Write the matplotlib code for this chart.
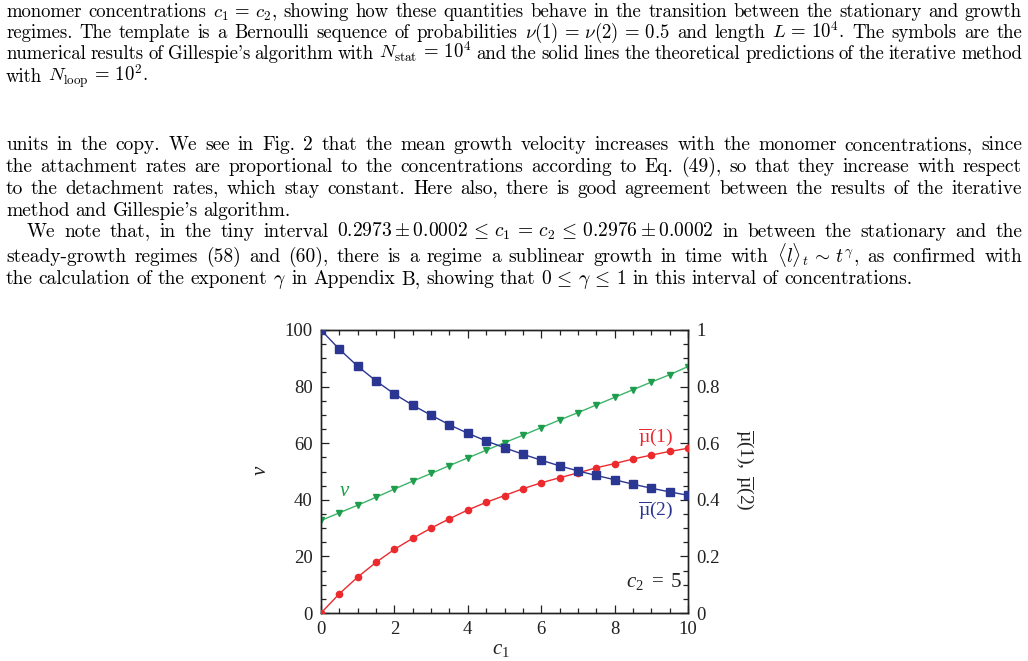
import re
import matplotlib as mpl
mpl.use('Agg')
import matplotlib.pyplot as plt
import matplotlib.ticker as ticker

######################
## data
######################

c1 = [0, 0.5, 1, 1.5, 2, 2.5, 3, 3.5, 4, 4.5, 5, 5.5, 6, 6.5, 7, 7.5, 8, 8.5, 9, 9.5, 10]
velocity = [32.7, 35.4, 38.1, 40.9, 43.8, 46.6, 49.3, 52.1, 54.8, 57.5, 60.2,
            62.8, 65.5, 68.2, 70.8, 73.5, 76.2, 78.9, 81.6, 84.2, 87.1]
mu1 = [0.0, 0.068, 0.127, 0.179, 0.225, 0.264, 0.300, 0.333, 0.364, 0.391, 0.415,
       0.439, 0.460, 0.478, 0.495, 0.513, 0.528, 0.544, 0.558, 0.571, 0.582]
mu2 = [1.0, 0.932, 0.872, 0.820, 0.774, 0.734, 0.699, 0.665, 0.635, 0.608, 0.584,
       0.561, 0.540, 0.520, 0.502, 0.486, 0.471, 0.455, 0.441, 0.428, 0.416]

caption_lines = [
    r"monomer concentrations $c_1\,=\,c_2$, showing how these quantities behave in the transition between the stationary and growth",
    r"regimes.  The template is a Bernoulli sequence of probabilities $\nu(1)\,=\,\nu(2)\,=\,0.5$ and length $L\,=\,10^4$.  The symbols are the",
    r"numerical results of Gillespie's algorithm with $N_{\mathrm{stat}}\,=\,10^4$ and the solid lines the theoretical predictions of the iterative method",
    r"with $N_{\mathrm{loop}}\,=\,10^2$.",
]
body_lines = [
    r"units in the copy. We see in Fig. 2 that the mean growth velocity increases with the monomer concentrations, since",
    r"the attachment rates are proportional to the concentrations according to Eq. (49), so that they increase with respect",
    r"to the detachment rates, which stay constant. Here also, there is good agreement between the results of the iterative",
    r"method and Gillespie's algorithm.",
    r"We note that, in the tiny interval $0.2973\pm0.0002\,\leq\,c_1\,=\,c_2\,\leq\,0.2976\pm0.0002$ in between the stationary and the",
    r"steady-growth regimes (58) and (60), there is a regime a sublinear growth in time with $\langle l\rangle_t\,\sim\,t^\gamma$, as confirmed with",
    r"the calculation of the exponent $\gamma$ in Appendix B, showing that $0\,\leq\,\gamma\,\leq\,1$ in this interval of concentrations.",
]

######################
## setup
######################

plt.rcParams['mathtext.fontset'] = 'custom'
plt.rcParams['mathtext.rm'] = 'Liberation Serif'
plt.rcParams['mathtext.it'] = 'Liberation Serif:italic'
plt.rcParams['font.family'] = 'Liberation Serif'

W, H = 1028, 661
fig = plt.figure(figsize=(W / 100, H / 100), dpi=100)

BLUE = '#2b3592'
RED = '#ec2a2e'
GREEN = '#1e9e4c'
GREEN_LINE = '#3cb46a'
INK = '#222222'

######################
## page text (justified)
######################

def tokens(s):
    return re.findall(r'(?:\$[^$]*\$|[^\s$])+', s)

def put_line(s, base, x0=6, x1=1022, size=14.0, justify=True):
    toks = tokens(s)
    arts = [fig.text(0, 0, t, fontsize=size, family='cmr10', math_fontfamily='cm',
                     va='baseline', ha='left', color='black') for t in toks]
    r = fig.canvas.get_renderer()
    ws = [a.get_window_extent(r).width for a in arts]
    if justify and len(toks) > 1:
        gap = (x1 - x0 - sum(ws)) / (len(toks) - 1)
    else:
        gap = size * 0.42
    x = x0
    for a, w in zip(arts, ws):
        a.set_position((x / W, 1 - base / H))
        x += w + gap

cap_base = [17, 38, 59, 82]
for i, (s, b) in enumerate(zip(caption_lines, cap_base)):
    put_line(s, b, size=13.5, justify=(i < len(caption_lines) - 1))

body_base = [150, 172, 194, 216, 237, 262, 284]
for i, (s, b) in enumerate(zip(body_lines, body_base)):
    x0 = 27 if i == 4 else 6
    put_line(s, b, x0=x0, size=14.0, justify=(i not in (3, 6)))

######################
## chart
######################

ax = fig.add_axes([321 / W, (H - 613) / H, 367 / W, 283 / H])
ax2 = ax.twinx()

ax.plot(c1, velocity, '-', color=GREEN_LINE, lw=1.0, marker='v', ms=5,
        mfc=GREEN, mec=GREEN, zorder=3)
ax2.plot(c1, mu1, '-', color=RED, lw=1.0, marker='o', ms=4.5,
         mfc=RED, mec=RED, zorder=3)
ax2.plot(c1, mu2, '-', color=BLUE, lw=1.0, marker='s', ms=5.5,
         mfc=BLUE, mec=BLUE, zorder=4)

ax.set_xlim(0, 10)
ax.set_ylim(0, 100)
ax2.set_ylim(0, 1)

ax.xaxis.set_major_locator(ticker.MultipleLocator(2))
ax.xaxis.set_minor_locator(ticker.MultipleLocator(0.5))
ax.yaxis.set_major_locator(ticker.MultipleLocator(20))
ax.yaxis.set_minor_locator(ticker.MultipleLocator(5))
ax2.yaxis.set_major_locator(ticker.MultipleLocator(0.2))
ax2.yaxis.set_minor_locator(ticker.MultipleLocator(0.05))
ax2.yaxis.set_major_formatter(ticker.FuncFormatter(lambda v, p: '%g' % round(v, 2)))

ax.tick_params(which='both', direction='in', top=True, right=False,
               labelsize=13.5, colors=INK, width=0.9)
ax.tick_params(which='major', length=6, pad=6)
ax.tick_params(which='minor', length=3.5)
ax2.tick_params(which='both', direction='in', labelsize=13.5, colors=INK, width=0.9)
ax2.tick_params(which='major', length=6, pad=6)
ax2.tick_params(which='minor', length=3.5)

for a in (ax, ax2):
    for sp in a.spines.values():
        sp.set_linewidth(1.0)
        sp.set_color(INK)

ax.set_ylabel(r'$\nu$', fontsize=15, color=INK, va='center')
ax.yaxis.set_label_coords(-0.163, 0.505)
ax2.set_ylabel(r'$\overline{\mathrm{µ}}(1),\ \overline{\mathrm{µ}}(2)$', fontsize=14,
               color=INK, rotation=270, va='center')
ax2.yaxis.set_label_coords(1.155, 0.505)
ax.set_xlabel(r'$c_1$', fontsize=15, color=INK)
ax.xaxis.set_label_coords(0.49, -0.095)

ax.text(0.65, 42.8, r'$\nu$', color=GREEN, fontsize=15, ha='center', va='center')
ax.text(9.13, 62.2, r'$\overline{\mathrm{µ}}(1)$', color=RED, fontsize=14,
        ha='center', va='center')
ax.text(9.13, 36.4, r'$\overline{\mathrm{µ}}(2)$', color=BLUE, fontsize=14,
        ha='center', va='center')
ax.text(9.84, 11, r'$c_2\ =\ 5$', color=INK, fontsize=15, ha='right', va='center')

fig.savefig('out.png', dpi=100)
